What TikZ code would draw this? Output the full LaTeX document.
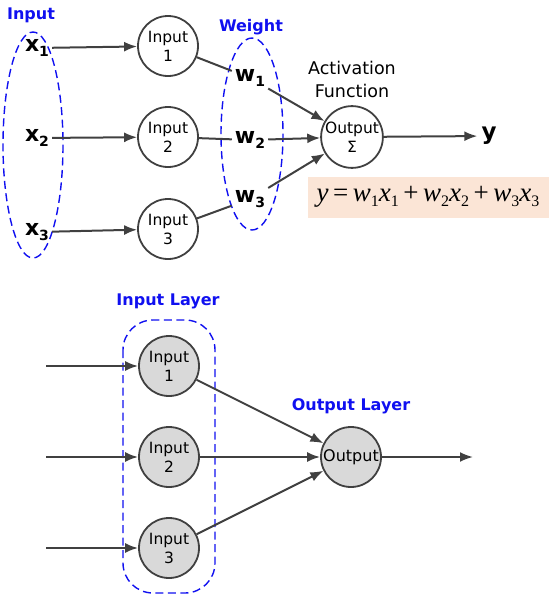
\documentclass[tikz,border=0pt]{standalone}
\usepackage{fontspec}
\setmainfont{DejaVu Sans}
\newfontfamily\tms{Liberation Serif}
\usetikzlibrary{arrows.meta}
\definecolor{linec}{HTML}{404040}
\definecolor{grayfill}{HTML}{D9D9D9}
\definecolor{lblue}{HTML}{1010F0}
\definecolor{peach}{HTML}{FBE5D6}
\newcommand\wsub[2]{{\bfseries #1}\raisebox{-5pt}{\fontsize{14}{14}\selectfont\bfseries #2}}
\newcommand\fv[2]{\textit{#1}\raisebox{-5pt}{\fontsize{16}{16}\selectfont #2}}
\begin{document}
\begin{tikzpicture}[x=1pt,y=-1pt,
  neuron/.style={circle, draw=linec, line width=1.8pt, minimum size=60pt, inner sep=0pt, align=center, font=\fontsize{15.5}{19}\selectfont},
  grayn/.style={neuron, fill=grayfill},
  arr/.style={draw=linec, line width=2pt, -{Latex[length=13pt,width=10pt]}},
  ln/.style={draw=linec, line width=2pt},
  bluelbl/.style={text=lblue, font=\fontsize{16}{19}\selectfont\bfseries},
  grp/.style={draw=lblue, line width=1.4pt, dash pattern=on 8pt off 4.5pt},
  vlbl/.style={font=\fontsize{22}{24}\selectfont, inner sep=3pt}]
\useasboundingbox (0,0) rectangle (550,595);

% ---------- top ----------
\node[bluelbl] (tin) at (31,15) {Input};
\draw[grp] (33,145) ellipse [x radius=30, y radius=113];
\node[vlbl] (x1) at (37,48) {\wsub{x}{1}};
\node[vlbl] (x2) at (37,138) {\wsub{x}{2}};
\node[vlbl] (x3) at (37,232) {\wsub{x}{3}};

\node[neuron] (i1) at (168,46) {Input\\1};
\node[neuron] (i2) at (168,137) {Input\\2};
\node[neuron] (i3) at (168,229) {Input\\3};

\node[bluelbl] (tw) at (251,27) {Weight};
\draw[grp] (252,134) ellipse [x radius=31, y radius=96];
\node[vlbl] (w1) at (250,78) {\wsub{w}{1}};
\node[vlbl] (w2) at (250,140) {\wsub{w}{2}};
\node[vlbl] (w3) at (250,199) {\wsub{w}{3}};

\node[neuron] (out) at (352,137) {Output\\Σ};
\node[font=\fontsize{17.5}{23}\selectfont, align=center] (act) at (352,79) {Activation\\Function};
\node[font=\fontsize{23}{24}\selectfont\bfseries, inner sep=4pt] (yl) at (489,136) {y};

\draw[arr] (x1) -- (i1);
\draw[arr] (x2) -- (i2);
\draw[arr] (x3) -- (i3);
\draw[ln] (i1) -- (w1);
\draw[ln] (i2) -- (w2);
\draw[ln] (i3) -- (w3);
\draw[arr] (w1) -- (out);
\draw[arr] (w2) -- (out);
\draw[arr] (w3) -- (out);
\draw[arr] (out) -- (yl);

\node[fill=peach, minimum width=241pt, minimum height=41pt, inner sep=0pt,
      font=\tms\fontsize{27}{28}\selectfont] (eq) at (428,197)
  {\textit{y}\,=\,\fv{w}{1}\fv{x}{1}\,+\,\fv{w}{2}\fv{x}{2}\,+\,\fv{w}{3}\fv{x}{3}};

% ---------- bottom ----------
\node[bluelbl] (til) at (168,301) {Input Layer};
\draw[grp, rounded corners=30pt] (123,320) rectangle (215,593);
\node[grayn] (b1) at (169,366) {Input\\1};
\node[grayn] (b2) at (169,457) {Input\\2};
\node[grayn] (b3) at (169,548) {Input\\3};
\node[grayn, font=\fontsize{16}{19}\selectfont] (bo) at (351,457) {Output};
\node[bluelbl] (tol) at (351,406) {Output Layer};

\coordinate (s1) at (46,366);
\coordinate (s2) at (46,457);
\coordinate (s3) at (46,548);
\coordinate (e) at (473,457);
\draw[arr] (s1) -- (b1);
\draw[arr] (s2) -- (b2);
\draw[arr] (s3) -- (b3);
\draw[arr] (b1) -- (bo);
\draw[arr] (b2) -- (bo);
\draw[arr] (b3) -- (bo);
\draw[arr] (bo) -- (e);
\end{tikzpicture}
\end{document}
